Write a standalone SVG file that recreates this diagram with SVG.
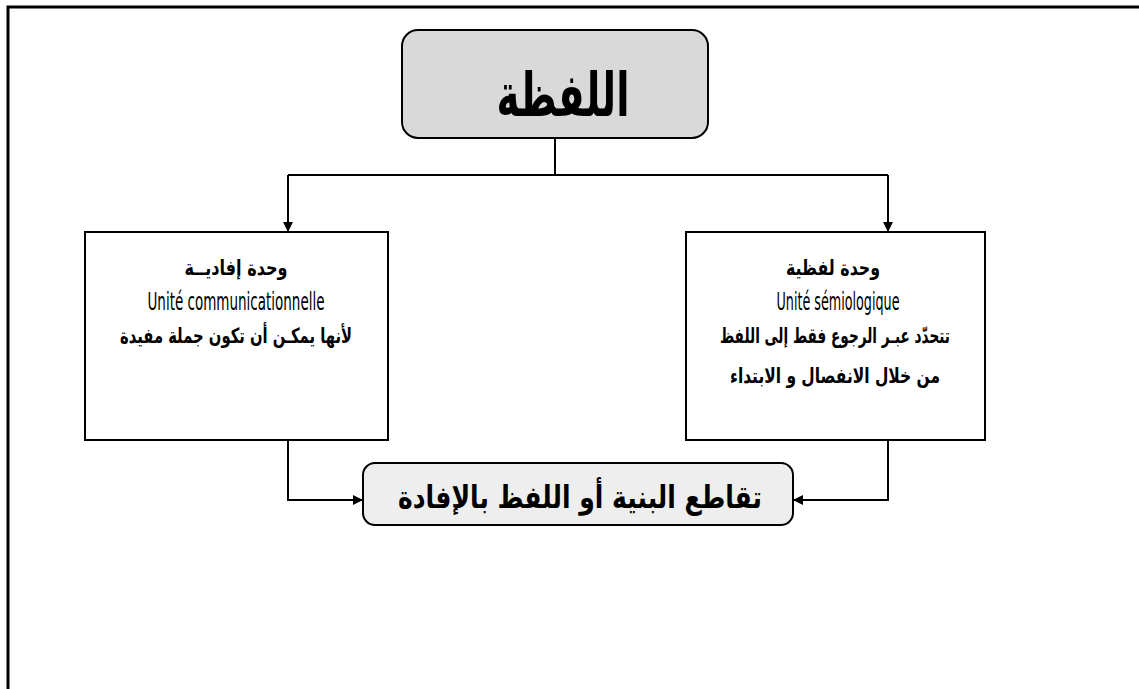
<svg xmlns="http://www.w3.org/2000/svg" width="1139" height="689" viewBox="0 0 1139 689">
<style>
.box{fill:#ffffff;stroke:#000;stroke-width:2}
.ar{font-family:"DejaVu Sans",sans-serif;font-weight:bold;fill:#000;text-anchor:middle}
.lat{font-family:"Liberation Sans Narrow","DejaVu Sans Condensed","Liberation Sans",sans-serif;fill:#000;text-anchor:middle;font-size:24px}
.ln{fill:none;stroke:#000;stroke-width:2}
</style>
<defs>
<marker id="arr" viewBox="0 0 10 10" refX="10" refY="5" markerWidth="11" markerHeight="10" markerUnits="userSpaceOnUse" orient="auto">
<path d="M0,0 L10,5 L0,10 z" fill="#000"/>
</marker>
</defs>
<rect width="1139" height="689" fill="#fff"/>
<path d="M8,689 V7 H1139" fill="none" stroke="#000" stroke-width="3"/>
<g id="connectors">
<path class="ln" d="M555,138 V175"/>
<path class="ln" d="M288,175 H888"/>
<path class="ln" d="M288,175 V232" marker-end="url(#arr)"/>
<path class="ln" d="M888,175 V232" marker-end="url(#arr)"/>
<path class="ln" d="M288,440 V500 H363" marker-end="url(#arr)"/>
<path class="ln" d="M888,440 V500 H793" marker-end="url(#arr)"/>
</g>
<g id="node-top">
<rect x="402" y="30" width="306" height="108" rx="16" fill="#d9d9d9" stroke="#000" stroke-width="2"/>
<text class="ar" x="563" y="116" font-size="60" textLength="133" lengthAdjust="spacingAndGlyphs">اللفظة</text>
</g>
<g id="node-left">
<rect class="box" x="85" y="232" width="303" height="208"/>
<text class="ar" x="236" y="275" font-size="21" textLength="103" lengthAdjust="spacingAndGlyphs">وحدة إفاديــة</text>
<text class="lat" x="236" y="310" textLength="177" lengthAdjust="spacingAndGlyphs">Unité communicationnelle</text>
<text class="ar" x="236" y="343" font-size="21" textLength="232" lengthAdjust="spacingAndGlyphs">لأنها يمكـن أن تكون جملة مفيدة</text>
</g>
<g id="node-right">
<rect class="box" x="686" y="232" width="299" height="208"/>
<text class="ar" x="833" y="275" font-size="21" textLength="94" lengthAdjust="spacingAndGlyphs">وحدة لفظية</text>
<text class="lat" x="838" y="310" textLength="123" lengthAdjust="spacingAndGlyphs">Unité sémiologique</text>
<text class="ar" x="835" y="343" font-size="21" textLength="230" lengthAdjust="spacingAndGlyphs">تتحدّد عبـر الرجوع فقط إلى اللفظ</text>
<text class="ar" x="835" y="383" font-size="21" textLength="210" lengthAdjust="spacingAndGlyphs">من خلال الانفصال و الابتداء</text>
</g>
<g id="node-bottom">
<rect x="363" y="463" width="430" height="62" rx="12" fill="#eeeeee" stroke="#000" stroke-width="2"/>
<text class="ar" x="580" y="508" font-size="31" textLength="364" lengthAdjust="spacingAndGlyphs">تقاطع البنية أو اللفظ بالإفادة</text>
</g>
</svg>
